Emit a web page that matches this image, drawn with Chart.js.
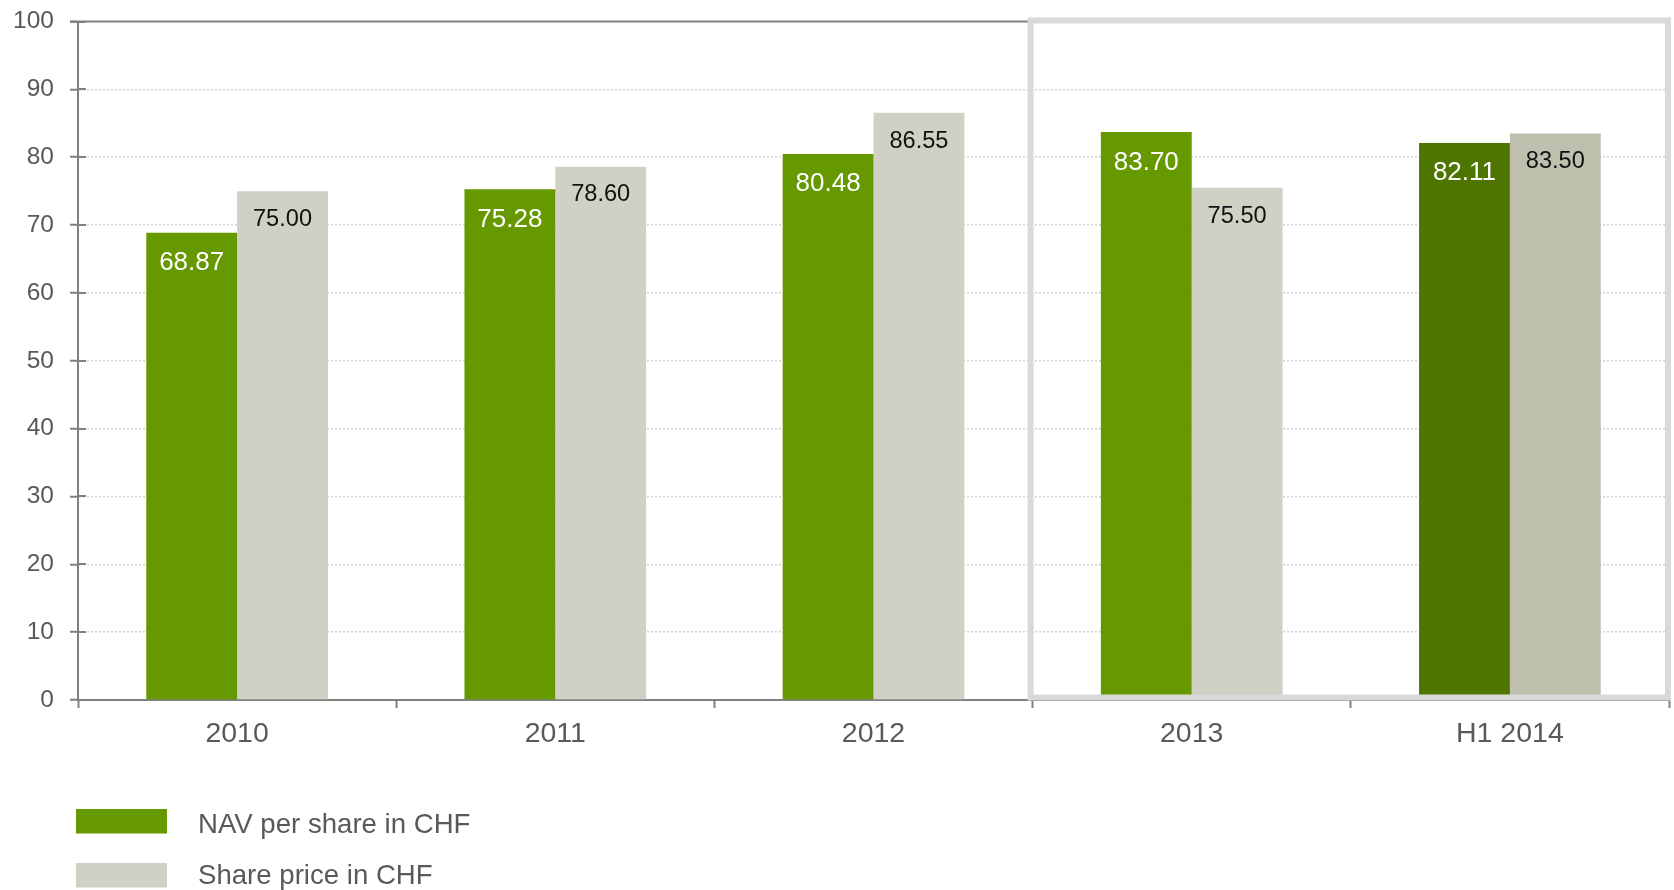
<!DOCTYPE html>
<html>
<head>
<meta charset="utf-8">
<title>NAV per share and share price</title>
<script src="https://cdn.jsdelivr.net/npm/chart.js@4.4.1/dist/chart.umd.min.js"></script>
<style>
  html, body { margin: 0; padding: 0; background: #ffffff; }
  #wrap { width: 1674px; height: 890px; position: relative; }
  canvas { display: block; }
</style>
</head>
<body>
<div id="wrap"><canvas id="chart" width="1674" height="890"></canvas></div>
<script>
// Values per reporting period (CHF)
const categories = ['2010', '2011', '2012', '2013', 'H1 2014'];
const navPerShare = [68.87, 75.28, 80.48, 83.70, 82.11];
const sharePrice = [75.00, 78.60, 86.55, 75.50, 83.50];
const seriesNames = ['NAV per share in CHF', 'Share price in CHF'];
const yTickValues = [0, 10, 20, 30, 40, 50, 60, 70, 80, 90, 100];
// Periods from this index onward sit inside the highlight frame
const highlightFrom = 3;

const FONT = '"Liberation Sans", Arial, Helvetica, sans-serif';
const TEXT_GREY = '#595959';
const AXIS_GREY = '#808080';
const GREEN = '#669900';
const GREEN_DARK = '#4d7500';
const STONE = '#d0d1c4';
const STONE_DARK = '#bebfad';
const FRAME = '#d9d9d9';

const lastIdx = categories.length - 1;
const navColors = categories.map((_, i) => i === lastIdx ? GREEN_DARK : GREEN);
const priceColors = categories.map((_, i) => i === lastIdx ? STONE_DARK : STONE);

// Value labels inside the top of each bar, then the highlight frame
const overlayPlugin = {
  id: 'overlay',
  afterDatasetsDraw(chart) {
    const ctx = chart.ctx;
    const x = chart.scales.x;
    const y = chart.scales.y;
    ctx.save();
    chart.data.datasets.forEach((ds, di) => {
      const meta = chart.getDatasetMeta(di);
      const size = di === 0 ? 26 : 23.6;
      const offset = di === 0 ? 37.5 : 34.8;
      ctx.font = size + 'px ' + FONT;
      ctx.fillStyle = di === 0 ? '#ffffff' : '#111111';
      ctx.textAlign = 'center';
      ctx.textBaseline = 'alphabetic';
      meta.data.forEach((bar, i) => {
        ctx.fillText(ds.data[i].toFixed(2), bar.x, bar.y + offset);
      });
    });

    // inner half of the y-axis tick marks
    ctx.strokeStyle = AXIS_GREY;
    ctx.lineWidth = 2;
    yTickValues.forEach(v => {
      const py = Math.round(y.getPixelForValue(v));
      ctx.beginPath();
      ctx.moveTo(x.left, py);
      ctx.lineTo(x.left + 8, py);
      ctx.stroke();
    });

    // top rule of the plot
    const frameLeft = x.getPixelForValue(highlightFrom - 0.5) - 2;
    const topY = y.getPixelForValue(100);
    ctx.beginPath();
    ctx.moveTo(x.left - 8, topY);
    ctx.lineTo(frameLeft, topY);
    ctx.stroke();

    // highlight frame around the latest periods
    ctx.strokeStyle = FRAME;
    ctx.lineWidth = 6;
    ctx.strokeRect(frameLeft, topY - 1, (x.right - 1) - frameLeft, (y.bottom - 2.5) - (topY - 1));
    ctx.restore();
  },
  afterDraw(chart) {
    // legend stacked under the axis
    const ctx = chart.ctx;
    ctx.save();
    ctx.font = '27.6px ' + FONT;
    ctx.textAlign = 'left';
    ctx.textBaseline = 'alphabetic';
    const rows = [{ top: 809, base: 832.5 }, { top: 863, base: 883.5 }];
    chart.data.datasets.forEach((ds, di) => {
      const r = rows[di];
      ctx.fillStyle = di === 0 ? GREEN : STONE;
      ctx.fillRect(76, r.top, 91, 24.5);
      ctx.fillStyle = TEXT_GREY;
      ctx.fillText(ds.label, 198, r.base);
    });
    ctx.restore();
  }
};

new Chart(document.getElementById('chart'), {
  type: 'bar',
  data: {
    labels: categories,
    datasets: [
      { label: seriesNames[0], data: navPerShare, backgroundColor: navColors, borderWidth: 0 },
      { label: seriesNames[1], data: sharePrice, backgroundColor: priceColors, borderWidth: 0 }
    ]
  },
  options: {
    responsive: false,
    devicePixelRatio: 1,
    animation: false,
    layout: { padding: { top: 21.5, right: 5, bottom: 110, left: 0 } },
    datasets: { bar: { categoryPercentage: 0.571, barPercentage: 1.0 } },
    plugins: {
      legend: { display: false },
      tooltip: { enabled: false }
    },
    scales: {
      x: {
        offset: true,
        grid: {
          display: true,
          offset: true,
          drawOnChartArea: false,
          drawTicks: true,
          tickLength: 8,
          tickWidth: 2,
          tickColor: AXIS_GREY
        },
        border: { display: true, color: AXIS_GREY, width: 2 },
        ticks: {
          color: TEXT_GREY,
          font: { family: FONT, size: 28.5 },
          padding: 9,
          maxRotation: 0
        },
        afterFit(scale) { scale.height = 80; }
      },
      y: {
        min: 0,
        max: 100,
        afterBuildTicks(scale) { scale.ticks = yTickValues.map(v => ({ value: v })); },
        grid: {
          color: c => (c.tick && (c.tick.value === 0 || c.tick.value === 100)) ? 'rgba(0,0,0,0)' : '#d2d2d2',
          lineWidth: 1.5,
          drawTicks: true,
          tickLength: 8,
          tickWidth: 2,
          tickColor: AXIS_GREY
        },
        border: { display: true, color: AXIS_GREY, width: 2, dash: [2, 2] },
        ticks: {
          color: TEXT_GREY,
          font: { family: FONT, size: 24.5 },
          padding: 16,
          callback: v => String(v)
        },
        afterFit(scale) {
          scale.width = 78;
          scale.paddingTop = 0;
          scale.paddingBottom = 0;
        }
      }
    }
  },
  plugins: [overlayPlugin]
});
</script>
</body>
</html>
